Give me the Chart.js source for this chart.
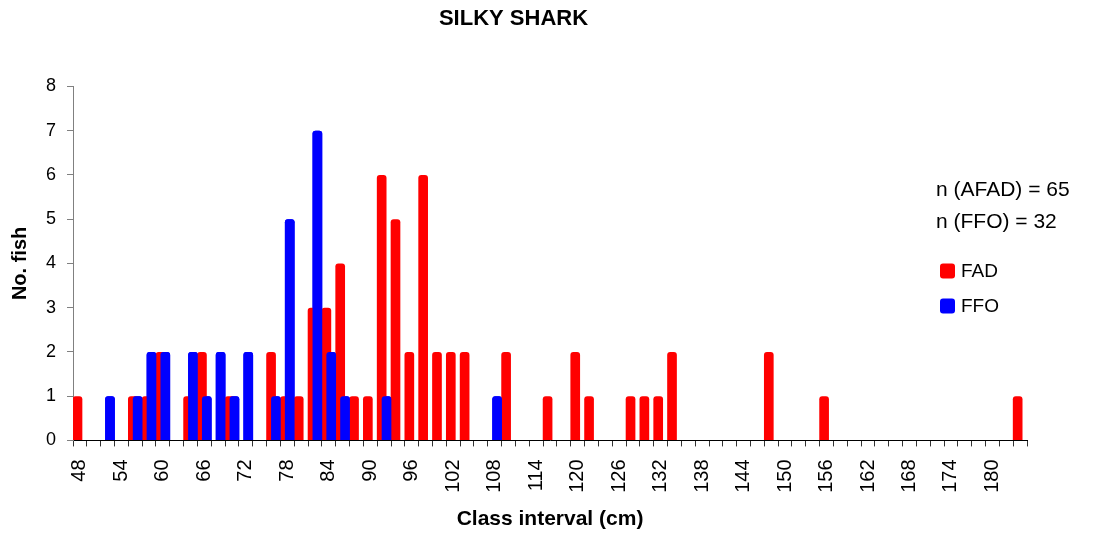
<!DOCTYPE html>
<html>
<head>
<meta charset="utf-8">
<script src="https://cdn.jsdelivr.net/npm/chart.js@4/dist/chart.umd.min.js"></script>
<style>
    html, body { margin: 0; padding: 0; background: #fff; }
    #wrap { width: 1094px; height: 535px; }
</style>
</head>
<body>
<div id="wrap"><canvas id="graficaTallas"></canvas></div>
<script>
// class intervals (cm)
const clases = [48, 50, 52, 54, 56, 58, 60, 62, 64, 66,
                68, 70, 72, 74, 76, 78, 80, 82, 84, 86,
                88, 90, 92, 94, 96, 98, 100, 102, 104, 106,
                108, 110, 112, 114, 116, 118, 120, 122, 124, 126,
                128, 130, 132, 134, 136, 138, 140, 142, 144, 146,
                148, 150, 152, 154, 156, 158, 160, 162, 164, 166,
                168, 170, 172, 174, 176, 178, 180, 182, 184];

const fad = [1, 0, 0, 0, 1, 1, 2, 0, 1, 2,
             0, 1, 0, 0, 2, 1, 1, 3, 3, 4,
             1, 1, 6, 5, 2, 6, 2, 2, 2, 0,
             0, 2, 0, 0, 1, 0, 2, 1, 0, 0,
             1, 1, 1, 2, 0, 0, 0, 0, 0, 0,
             2, 0, 0, 0, 1, 0, 0, 0, 0, 0,
             0, 0, 0, 0, 0, 0, 0, 0, 1];

const ffo = [0, 0, 1, 0, 1, 2, 2, 0, 2, 1,
             2, 1, 2, 0, 1, 5, 0, 7, 2, 1,
             0, 0, 1, 0, 0, 0, 0, 0, 0, 0,
             1, 0, 0, 0, 0, 0, 0, 0, 0, 0,
             0, 0, 0, 0, 0, 0, 0, 0, 0, 0,
             0, 0, 0, 0, 0, 0, 0, 0, 0, 0,
             0, 0, 0, 0, 0, 0, 0, 0, 0];

const series = ['FAD', 'FFO'];
const colores = ['#ff0000', '#0000ff'];
const notas = ['n (AFAD) = 65', 'n (FFO) = 32'];

const fuente = "'Liberation Sans', Arial, sans-serif";

// FFO bars sit on top of FAD ones in the original
const encimaFFO = {
    id: 'encimaFFO',
    afterDatasetsDraw(chart) {
        const meta = chart.getDatasetMeta(1);
        chart.ctx.save();
        meta.controller.draw();
        chart.ctx.restore();
    }
};

const leyenda = {
    id: 'leyenda',
    afterDraw(chart) {
        const ctx = chart.ctx;
        ctx.save();
        ctx.fillStyle = '#000';
        ctx.textBaseline = 'middle';
        ctx.textAlign = 'left';
        ctx.font = '21px ' + fuente;
        ctx.fillText(notas[0], 936, 190);
        ctx.fillText(notas[1], 936, 222);

        ctx.font = '19px ' + fuente;
        series.forEach((s, i) => {
            const y = 271 + i * 35;
            ctx.fillStyle = colores[i];
            ctx.beginPath();
            ctx.roundRect(940, y - 7.5, 15, 15, 3);
            ctx.fill();
            ctx.fillStyle = '#000';
            ctx.fillText(s, 961, y + 1);
        });
        ctx.restore();
    }
};

new Chart(document.getElementById('graficaTallas'), {
    type: 'bar',
    data: {
        labels: clases,
        datasets: [{
            label: series[0],
            data: fad,
            backgroundColor: colores[0],
            borderRadius: 3,
            categoryPercentage: 0.7,
            barPercentage: 2.0
        }, {
            label: series[1],
            data: ffo,
            backgroundColor: colores[1],
            borderRadius: 3,
            categoryPercentage: 0.7,
            barPercentage: 2.0
        }]
    },
    options: {
        responsive: true,
        maintainAspectRatio: false,
        animation: false,
        layout: {
            padding: { left: 0, right: 67, top: 0, bottom: 0 }
        },
        scales: {
            x: {
                grid: {
                    drawOnChartArea: false,
                    tickLength: 6,
                    color: '#333'
                },
                border: { color: '#000' },
                ticks: {
                    autoSkip: false,
                    minRotation: 90,
                    maxRotation: 90,
                    padding: 13,
                    color: '#000',
                    font: { family: fuente, size: 20 },
                    callback: (v, i) => i % 3 === 0 ? String(clases[i]) : ''
                },
                title: {
                    display: true,
                    text: 'Class interval (cm)',
                    color: '#000',
                    font: { family: fuente, size: 21, weight: 'bold' },
                    padding: { top: 1, bottom: 3 }
                }
            },
            y: {
                min: 0,
                max: 8,
                grid: {
                    drawOnChartArea: false,
                    tickLength: 6,
                    color: '#808080'
                },
                border: { color: '#808080' },
                ticks: {
                    stepSize: 1,
                    padding: 11,
                    color: '#000',
                    font: { family: fuente, size: 18 }
                },
                title: {
                    display: true,
                    text: 'No. fish',
                    color: '#000',
                    font: { family: fuente, size: 20, weight: 'bold' },
                    padding: { top: 8, bottom: 3 }
                }
            }
        },
        plugins: {
            legend: { display: false },
            tooltip: { enabled: false },
            title: {
                display: true,
                text: 'SILKY SHARK',
                color: '#000',
                font: { family: fuente, size: 22, weight: 'bold' },
                padding: { top: 6, bottom: 54 }
            }
        }
    },
    plugins: [encimaFFO, leyenda]
});
</script>
</body>
</html>
